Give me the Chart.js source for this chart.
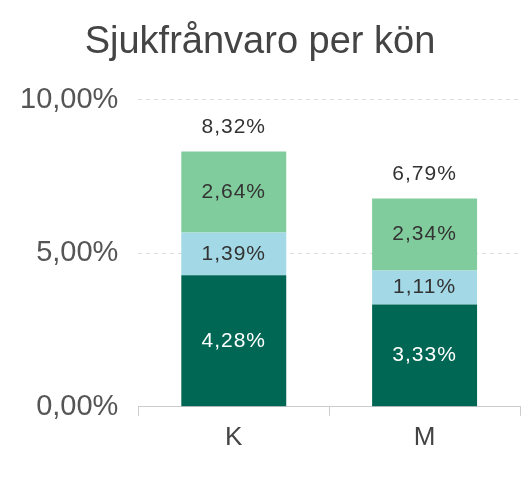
<!DOCTYPE html>
<html>
<head>
<meta charset="utf-8">
<script src="https://cdn.jsdelivr.net/npm/chart.js@4"></script>
<style>
  html, body { margin: 0; padding: 0; background: #fff; }
  #wrap { width: 521px; height: 481px; }
</style>
</head>
<body>
<div id="wrap"><canvas id="chart" width="521" height="481"></canvas></div>
<script>
// Values
const categories = ['K', 'M'];
const darkValues = [4.28, 3.33];
const blueValues = [1.39, 1.11];
const greenValues = [2.64, 2.34];
const totals = [8.32, 6.79];
const yTicks = [0, 5, 10];

function fmt(v) {
    return v.toFixed(2).replace('.', ',') + '%';
}

// Simple inline label plugin: segment values and a total above each stack
const labelPlugin = {
    id: 'labels',
    afterDatasetsDraw(chart) {
        const ctx = chart.ctx;
        ctx.save();
        ctx.font = '21px "Liberation Sans", Arial, sans-serif';
        ctx.letterSpacing = '1px';
        ctx.textAlign = 'center';
        ctx.textBaseline = 'middle';
        chart.data.datasets.forEach((ds, i) => {
            const meta = chart.getDatasetMeta(i);
            meta.data.forEach((bar, j) => {
                ctx.fillStyle = ds.labelColor;
                ctx.fillText(fmt(ds.data[j]), bar.x, (bar.y + bar.base) / 2);
            });
        });
        const top = chart.getDatasetMeta(chart.data.datasets.length - 1);
        top.data.forEach((bar, j) => {
            ctx.fillStyle = '#333';
            ctx.fillText(fmt(totals[j]), bar.x, bar.y - 24);
        });
        ctx.restore();
    }
};

document.addEventListener('DOMContentLoaded', () => {
    const ctx = document.getElementById('chart').getContext('2d');
    new Chart(ctx, {
        type: 'bar',
        data: {
            labels: categories,
            datasets: [
                { data: darkValues, backgroundColor: '#006754', labelColor: '#ffffff' },
                { data: blueValues, backgroundColor: '#a3d8e6', labelColor: '#333333' },
                { data: greenValues, backgroundColor: '#80cc9c', labelColor: '#333333' }
            ]
        },
        options: {
            responsive: false,
            animation: false,
            barPercentage: 0.55,
            categoryPercentage: 1,
            layout: { padding: { left: 0, right: 1, top: 0, bottom: 22 } },
            plugins: {
                legend: { display: false },
                tooltip: { enabled: false },
                title: {
                    display: true,
                    text: 'Sjukfrånvaro per kön',
                    color: '#444',
                    font: { family: '"Liberation Sans", Arial, sans-serif', size: 38, weight: 'normal' },
                    padding: { top: 20, bottom: 34 }
                }
            },
            scales: {
                x: {
                    stacked: true,
                    grid: { drawOnChartArea: false, drawTicks: true, tickLength: 9, color: '#ccc', offset: true },
                    border: { color: '#ccc' },
                    ticks: {
                        color: '#444',
                        padding: 6,
                        font: { family: '"Liberation Sans", Arial, sans-serif', size: 26 }
                    }
                },
                y: {
                    stacked: true,
                    min: 0,
                    max: 10,
                    afterBuildTicks(axis) {
                        axis.ticks = yTicks.map(v => ({ value: v }));
                    },
                    border: { display: false, dash: [4, 4] },
                    grid: { color: '#ddd', drawTicks: false },
                    ticks: {
                        color: '#555',
                        padding: 20,
                        font: { family: '"Liberation Sans", Arial, sans-serif', size: 29 },
                        callback: v => fmt(v)
                    }
                }
            }
        },
        plugins: [labelPlugin]
    });
});
</script>
</body>
</html>
